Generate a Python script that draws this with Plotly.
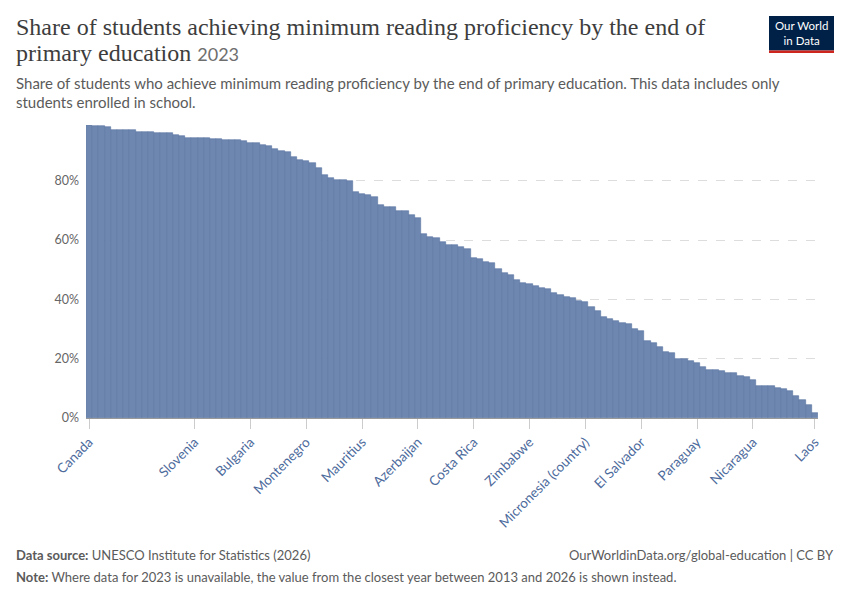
import plotly.graph_objects as go

# Countries sorted by share (only some are labelled on the axis)
countries = [
    "Canada", "Singapore", "Ireland", "Hong Kong", "Russia", "Finland", "Poland", "Taiwan",
    "Czechia", "Latvia", "Denmark", "Lithuania", "Norway", "Sweden", "Austria", "Croatia",
    "Netherlands", "Slovenia", "Italy", "Germany", "Hungary", "Slovakia", "Portugal", "Spain",
    "Australia", "United States", "Bulgaria", "Macao", "Cyprus", "Israel", "New Zealand", "Belgium",
    "France", "Serbia", "Kazakhstan", "Montenegro", "Malta", "Georgia", "Chile", "Albania",
    "Armenia", "Uzbekistan", "North Macedonia", "Bahrain", "Mauritius", "Trinidad and Tobago",
    "United Arab Emirates", "Qatar", "Kosovo", "Turkey", "Uruguay", "Oman", "Mexico", "Azerbaijan",
    "Peru", "Brazil", "Colombia", "Argentina", "Iran", "Saudi Arabia", "Kyrgyzstan", "Jordan",
    "Costa Rica", "Kuwait", "Ecuador", "Vietnam", "Morocco", "Egypt", "Tunisia", "Indonesia",
    "Seychelles", "Zimbabwe", "Kenya", "Tanzania", "Ghana", "Lesotho", "South Africa", "Namibia",
    "Botswana", "Philippines", "Micronesia (country)", "Samoa", "Tonga", "Fiji", "Vanuatu",
    "Solomon Islands", "Guatemala", "Honduras", "Dominican Republic", "El Salvador", "Panama",
    "Senegal", "Burundi", "Cameroon", "Cote d'Ivoire", "Benin", "Burkina Faso", "Togo", "Paraguay",
    "Madagascar", "Niger", "Chad", "Congo", "Gabon", "Mali", "Guinea", "Comoros", "Nicaragua",
    "Zambia", "Malawi", "Uganda", "Mozambique", "Ethiopia", "Papua New Guinea", "Cambodia",
    "Myanmar", "Kiribati", "Laos",
]

share = [
    98.8, 98.4, 98.3, 98.0, 97.2, 97.1, 97.1, 97.0, 96.6, 96.5, 96.5, 96.1, 96.0, 96.0, 95.3, 95.2,
    94.5, 94.3, 94.3, 94.3, 94.1, 94.0, 93.8, 93.7, 93.6, 93.4, 92.8, 92.7, 92.1, 91.7, 90.7, 90.2,
    89.8, 87.9, 87.1, 86.8, 85.9, 84.2, 82.0, 80.8, 80.4, 80.1, 79.9, 76.3, 75.4, 75.1, 74.6, 71.8,
    71.1, 71.0, 69.9, 69.8, 68.4, 67.3, 62.2, 61.1, 60.6, 59.5, 58.3, 58.2, 57.8, 57.0, 53.9, 53.5,
    52.7, 52.3, 50.4, 48.8, 48.2, 46.5, 45.4, 45.3, 44.4, 43.8, 43.4, 42.2, 41.6, 40.9, 40.6, 39.6,
    39.1, 37.3, 36.1, 34.0, 33.5, 32.8, 32.0, 31.8, 30.0, 29.2, 26.0, 25.3, 24.0, 22.2, 21.9, 20.0,
    19.9, 19.3, 18.7, 17.3, 16.3, 16.1, 15.9, 15.2, 15.1, 14.3, 13.7, 12.9, 10.9, 10.9, 10.7, 10.0,
    9.7, 9.1, 7.4, 6.2, 4.3, 1.8,
]

labelled = [
    "Canada", "Slovenia", "Bulgaria", "Montenegro", "Mauritius", "Azerbaijan", "Costa Rica",
    "Zimbabwe", "Micronesia (country)", "El Salvador", "Paraguay", "Nicaragua", "Laos",
]

y_ticks = [0, 20, 40, 60, 80]

# the page puts the figure 8px in from the top-left corner
OFF = 8
W, H = 850 - OFF, 600 - OFF
L, R, T, B = 86, 818, 125, 418  # plot area in screen pixels


def px(x):
    return (x - L) / (R - L)


def py(y):
    return (B - y) / (B - T)


fig = go.Figure()

fig.add_trace(
    go.Bar(
        x=countries,
        y=share,
        marker=dict(color="#6d87b1", line=dict(color="#5b75a2", width=0.6)),
        hovertemplate="%{x}: %{y:.1f}%<extra></extra>",
        showlegend=False,
    )
)

sans = "Lato, 'Noto Sans', sans-serif"
serif = "Liberation Serif"

annotations = [
    dict(x=px(14), y=py(12), text="Share of students achieving minimum reading proficiency by the end of",
         font=dict(family=serif, size=24, color="#3d3d3d"), xanchor="left", yanchor="top"),
    dict(x=px(14), y=py(38),
         text="primary education <span style='font-family:Lato;font-size:18px;color:#6e6e6e'>2023</span>",
         font=dict(family=serif, size=24, color="#3d3d3d"), xanchor="left", yanchor="top"),
    dict(x=px(14), y=py(72),
         text="Share of students who achieve minimum reading proficiency by the end of primary education. This data includes only",
         font=dict(family=sans, size=15, color="#5b5b5b"), xanchor="left", yanchor="top"),
    dict(x=px(14), y=py(91), text="students enrolled in school.",
         font=dict(family=sans, size=15, color="#5b5b5b"), xanchor="left", yanchor="top"),
    dict(x=px(14), y=py(555), text="<b>Data source:</b> UNESCO Institute for Statistics (2026)",
         font=dict(family=sans, size=13, color="#5b5b5b"), xanchor="left", yanchor="middle"),
    dict(x=px(836), y=py(555), text="OurWorldinData.org/global-education | CC BY",
         font=dict(family=sans, size=13, color="#5b5b5b"), xanchor="right", yanchor="middle"),
    dict(x=px(14), y=py(577),
         text="<b>Note:</b> Where data for 2023 is unavailable, the value from the closest year between 2013 and 2026 is shown instead.",
         font=dict(family=sans, size=13, color="#5b5b5b"), xanchor="left", yanchor="middle"),
    dict(x=px(801.5), y=py(33), text="Our World<br>in Data",
         font=dict(family=sans, size=11.5, color="white"), xanchor="center", yanchor="middle",
         align="center"),
]
for a in annotations:
    a.update(xref="paper", yref="paper", showarrow=False)

shapes = [
    dict(type="rect", x0=px(769), x1=px(834), y0=py(16), y1=py(50.5), fillcolor="#002147", line_width=0),
    dict(type="rect", x0=px(769), x1=px(834), y0=py(50.5), y1=py(53), fillcolor="#ce261e", line_width=0),
]
for s in shapes:
    s.update(xref="paper", yref="paper", layer="above")

fig.update_layout(
    width=W,
    height=H,
    margin=dict(l=L - OFF, r=850 - R, t=T - OFF, b=600 - B),
    plot_bgcolor="white",
    paper_bgcolor="white",
    bargap=0,
    font=dict(family=sans, color="#666666"),
    annotations=annotations,
    shapes=shapes,
    xaxis=dict(
        type="category",
        tickmode="array",
        tickvals=labelled,
        ticktext=labelled,
        tickangle=-45,
        tickfont=dict(size=13.5, color="#4c6a9c", family=sans),
        ticks="outside",
        ticklen=10,
        tickcolor="#cccccc",
        showgrid=False,
        showline=True,
        linecolor="#999999",
        linewidth=1,
        range=[-0.5, len(countries) - 0.5],
    ),
    yaxis=dict(
        range=[0, max(share)],
        tickvals=y_ticks,
        ticktext=[f"{v}%" for v in y_ticks],
        tickfont=dict(size=12.5, color="#666666", family=sans),
        showgrid=True,
        gridcolor="#dddddd",
        griddash="dash",
        zeroline=False,
        ticks="",
        ticklabelstandoff=6,
    ),
)

fig.write_html("out.html")
